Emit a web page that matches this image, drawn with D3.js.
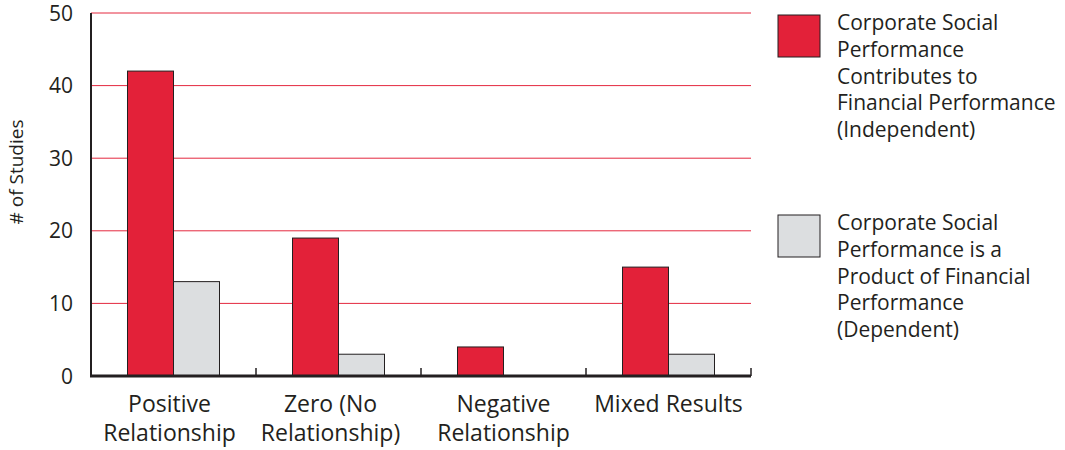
<!DOCTYPE html>
<html>
<head>
<meta charset="utf-8">
<script src="https://cdn.jsdelivr.net/npm/d3@7"></script>
<style>
  html, body { margin: 0; padding: 0; background: #fff; }
  svg { display: block; font-family: "Open Sans", "Noto Sans", sans-serif; }
</style>
</head>
<body>
<svg id="chart" width="1065" height="450"></svg>
<script>
// Study counts by relationship type, split by direction of causality
const categories = [
  ["Positive", "Relationship"],
  ["Zero (No", "Relationship)"],
  ["Negative", "Relationship"],
  ["Mixed Results"]
];
const independent = [42, 19, 4, 15];
const dependent = [13, 3, 0, 3];
const yTicks = [0, 10, 20, 30, 40, 50];
const seriesNames = [
  ["Corporate Social", "Performance", "Contributes to", "Financial Performance", "(Independent)"],
  ["Corporate Social", "Performance is a", "Product of Financial", "Performance", "(Dependent)"]
];
const seriesColors = ["#e32139", "#dcdee0"];

const svg = d3.select("#chart");
const margin = { left: 91, right: 314, top: 13, bottom: 74 };
const width = 1065 - margin.left - margin.right;
const height = 450 - margin.top - margin.bottom;

const g = svg.append("g").attr("transform", `translate(${margin.left},${margin.top})`);

const x = d3.scaleBand().domain(d3.range(categories.length)).range([0, width]).padding(0);
const xInner = d3.scaleBand().domain([0, 1]).range([0, 92]);
const y = d3.scaleLinear().domain([0, 50]).range([height, 0]);

// Horizontal gridlines
g.append("g")
  .selectAll("line")
  .data(yTicks.filter(t => t > 0))
  .join("line")
  .attr("x1", 0).attr("x2", width)
  .attr("y1", d => y(d)).attr("y2", d => y(d))
  .attr("stroke", "#e4283f").attr("stroke-width", 1);

// Y tick labels
g.append("g")
  .selectAll("text")
  .data(yTicks)
  .join("text")
  .attr("x", -18)
  .attr("y", d => y(d))
  .attr("dy", "0.36em")
  .attr("text-anchor", "end")
  .attr("font-size", 21)
  .attr("fill", "#231f20")
  .text(d => d);

// Y axis title
g.append("text")
  .attr("transform", `translate(${16 - margin.left},${172 - margin.top}) rotate(-90)`)
  .attr("dy", "0.35em")
  .attr("text-anchor", "middle")
  .attr("font-size", 19)
  .attr("fill", "#231f20")
  .text("# of Studies");

// Bars
const groups = g.append("g")
  .selectAll("g")
  .data(categories.map((c, i) => i))
  .join("g")
  .attr("transform", i => `translate(${x(i) + x.bandwidth() / 2 - 46},0)`);

groups.selectAll("rect")
  .data(i => [independent[i], dependent[i]].map((v, s) => ({ v, s })))
  .join("rect")
  .filter(d => d.v > 0)
  .attr("x", d => xInner(d.s))
  .attr("y", d => y(d.v))
  .attr("width", xInner.bandwidth())
  .attr("height", d => y(0) - y(d.v))
  .attr("fill", d => seriesColors[d.s])
  .attr("stroke", "#231f20")
  .attr("stroke-width", 1);

// Axis lines
g.append("line")
  .attr("x1", 0).attr("x2", 0).attr("y1", 0).attr("y2", height)
  .attr("stroke", "#231f20").attr("stroke-width", 2);
g.append("line")
  .attr("x1", -1).attr("x2", width).attr("y1", height).attr("y2", height)
  .attr("stroke", "#231f20").attr("stroke-width", 3);

// Category separator ticks
g.append("g")
  .selectAll("line")
  .data(d3.range(1, categories.length + 1))
  .join("line")
  .attr("x1", i => i * x.step()).attr("x2", i => i * x.step())
  .attr("y1", height - 8).attr("y2", height)
  .attr("stroke", "#231f20").attr("stroke-width", 1.5);

// Category labels
const catLabels = g.append("g")
  .selectAll("text")
  .data(categories)
  .join("text")
  .attr("x", (d, i) => x(i) + x.bandwidth() / 2 - (i === 1 ? 8 : i === 0 ? 4 : 0))
  .attr("y", 412 - margin.top)
  .attr("text-anchor", "middle")
  .attr("font-size", 23)
  .attr("fill", "#231f20");
catLabels.selectAll("tspan")
  .data(d => d)
  .join("tspan")
  .attr("x", function () { return d3.select(this.parentNode).attr("x"); })
  .attr("dy", (d, i) => i === 0 ? 0 : 29)
  .text(d => d);

// Legend
const legend = svg.append("g").attr("transform", "translate(778,15)");
const items = legend.selectAll("g")
  .data(seriesNames)
  .join("g")
  .attr("transform", (d, i) => `translate(0,${i * 200})`);
items.append("rect")
  .attr("width", 42).attr("height", 42)
  .attr("fill", (d, i) => seriesColors[i])
  .attr("stroke", "#231f20").attr("stroke-width", 1);
items.append("text")
  .attr("x", 59)
  .attr("y", 8)
  .attr("font-size", 21)
  .attr("fill", "#231f20")
  .selectAll("tspan")
  .data(d => d)
  .join("tspan")
  .attr("x", 59)
  .attr("dy", (d, i) => i === 0 ? "0.35em" : 26.7)
  .text(d => d);
</script>
</body>
</html>
